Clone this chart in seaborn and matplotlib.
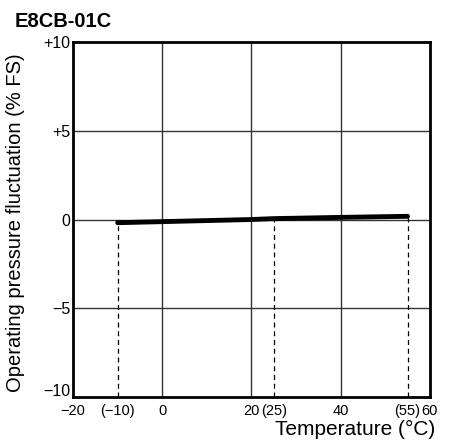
import matplotlib
matplotlib.use("Agg")
import matplotlib.pyplot as plt
import matplotlib.transforms as mtransforms
import numpy as np
import pandas as pd
import seaborn as sns

# curve data: temperature (°C) vs operating pressure fluctuation (% FS)
temp = [-10, 0, 20, 25, 40, 55]
fluct = [-0.18, -0.12, 0.0, 0.05, 0.12, 0.18]

# reference temperatures marked with dashed drop lines
ref_temps = [-10, 25, 55]

x_ticks = [-20, -10, 0, 20, 25, 40, 55, 60]
x_labels = ["\u221220", "(\u221210)", "0", "20", "(25)", "40", "(55)", "60"]
y_ticks = [10, 5, 0, -5, -10]
y_labels = ["+10", "+5", "0", "\u22125", "\u221210"]
grid_x = [0, 20, 40]
grid_y = [5, 0, -5]

sns.set_theme(style="white")
plt.rcParams["font.family"] = ["Liberation Sans", "DejaVu Sans"]
plt.rcParams["text.color"] = "black"
plt.rcParams["axes.labelcolor"] = "black"
plt.rcParams["xtick.color"] = "black"
plt.rcParams["ytick.color"] = "black"

fig = plt.figure(figsize=(4.51, 4.43), dpi=100)
ax = fig.add_axes([0.162, 0.104, 0.791, 0.801])

df = pd.DataFrame({"temp": temp, "fluct": fluct})

for gx in grid_x:
    ax.axvline(gx, color="#333333", lw=1.0, zorder=1)
for gy in grid_y:
    ax.axhline(gy, color="#333333", lw=1.0, zorder=1)

for rt in ref_temps:
    yv = np.interp(rt, temp, fluct)
    ax.plot([rt, rt], [-10, yv], color="black", lw=0.9, ls=(0, (4, 3)), zorder=2)

sns.lineplot(data=df, x="temp", y="fluct", ax=ax, color="black", lw=3.5, zorder=3)

ax.set_xlim(-20, 60)
ax.set_ylim(-10, 10)
ax.set_xticks(x_ticks)
ax.set_xticklabels(x_labels, fontsize=10.5)
ax.set_yticks(y_ticks)
ax.set_yticklabels(y_labels, fontsize=11.5)
ax.tick_params(axis="x", length=0, pad=5)
ax.tick_params(axis="y", length=0, pad=2)

# lift the "-10" label a little so it clears the "-20" x label
lbl = ax.get_yticklabels()[-1]
lbl.set_transform(lbl.get_transform() + mtransforms.ScaledTranslation(0, 5 / 72, fig.dpi_scale_trans))

for s in ax.spines.values():
    s.set_color("black")
    s.set_linewidth(2)

ax.set_xlabel("")
ax.set_ylabel("Operating pressure fluctuation (% FS)", fontsize=14.5)
ax.yaxis.set_label_coords(-0.135, 0.49)

fig.text(0.033, 0.94, "E8CB-01C", fontsize=14.5, fontweight="bold")
fig.text(0.965, 0.008, "Temperature (\u00b0C)", fontsize=15, ha="right", va="bottom")

fig.savefig("out.png", dpi=100)
